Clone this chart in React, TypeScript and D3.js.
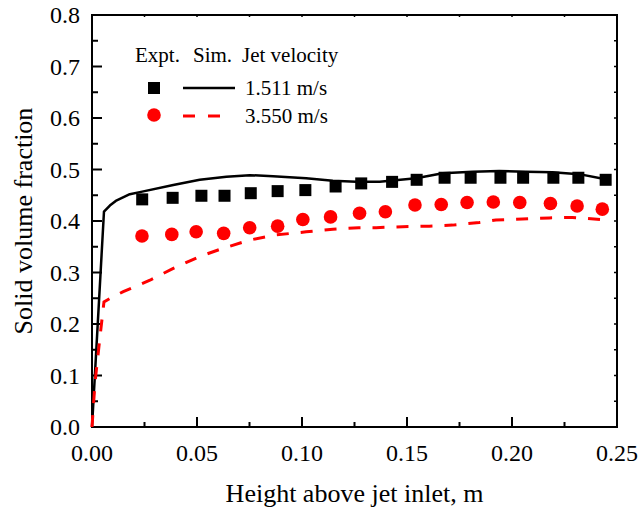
import React from "react";
import * as d3 from "d3";

// Experimental points, jet velocity 1.511 m/s
const exptSlowX = [0.0239, 0.0384, 0.0521, 0.0631, 0.0756, 0.0884, 0.1016, 0.116, 0.1282, 0.1429, 0.1546, 0.1679, 0.1803, 0.1945, 0.2053, 0.2197, 0.2316, 0.2446];
const exptSlowY = [0.442, 0.445, 0.449, 0.449, 0.454, 0.458, 0.46, 0.467, 0.473, 0.476, 0.48, 0.484, 0.484, 0.484, 0.484, 0.484, 0.484, 0.48];

// Experimental points, jet velocity 3.550 m/s
const exptFastX = [0.0238, 0.038, 0.0496, 0.0627, 0.0751, 0.0884, 0.1004, 0.1136, 0.1274, 0.1397, 0.1538, 0.1663, 0.1786, 0.1911, 0.2037, 0.2183, 0.231, 0.243];
const exptFastY = [0.371, 0.374, 0.379, 0.376, 0.387, 0.39, 0.403, 0.408, 0.415, 0.418, 0.431, 0.432, 0.436, 0.437, 0.436, 0.434, 0.429, 0.423];

// Simulation, 1.511 m/s
const simSlowX = [0, 0.0057, 0.0085, 0.0113, 0.018, 0.0239, 0.0387, 0.0513, 0.064, 0.0751, 0.0862, 0.102, 0.1147, 0.1258, 0.137, 0.1543, 0.167, 0.1812, 0.1939, 0.2066, 0.2193, 0.232, 0.2446];
const simSlowY = [0, 0.418, 0.43, 0.439, 0.452, 0.457, 0.47, 0.48, 0.486, 0.489, 0.487, 0.483, 0.478, 0.476, 0.476, 0.483, 0.4926, 0.4958, 0.497, 0.4958, 0.4945, 0.491, 0.481];

// Simulation, 3.550 m/s
const simFastX = [0, 0.0014, 0.0038, 0.0057, 0.0101, 0.0149, 0.0276, 0.0387, 0.0513, 0.0624, 0.0751, 0.0878, 0.102, 0.1147, 0.127, 0.1353, 0.148, 0.1606, 0.1717, 0.1844, 0.1923, 0.205, 0.2177, 0.2288, 0.245];
const simFastY = [0, 0.085, 0.175, 0.243, 0.253, 0.263, 0.285, 0.308, 0.331, 0.347, 0.363, 0.373, 0.379, 0.384, 0.387, 0.387, 0.389, 0.39, 0.392, 0.397, 0.402, 0.404, 0.406, 0.407, 0.402];

const xTicks = [0, 0.05, 0.1, 0.15, 0.2, 0.25];
const yTicks = [0, 0.1, 0.2, 0.3, 0.4, 0.5, 0.6, 0.7, 0.8];
const velocities = ["1.511 m/s", "3.550 m/s"];

const W = 638;
const H = 514;
const left = 92;
const right = 617;
const top = 15;
const bottom = 427;
const FONT = "'Liberation Serif', 'Times New Roman', serif";
const RED = "#ff0000";

export default function App() {
  const x = d3.scaleLinear().domain([0, 0.25]).range([left, right]);
  const y = d3.scaleLinear().domain([0, 0.8]).range([bottom, top]);

  const line = d3
    .line<[number, number]>()
    .x((d) => x(d[0]))
    .y((d) => y(d[1]))
    .curve(d3.curveLinear);

  const slowPath = line(simSlowX.map((v, i) => [v, simSlowY[i]] as [number, number])) || "";
  const fastPath = line(simFastX.map((v, i) => [v, simFastY[i]] as [number, number])) || "";

  const xMinor = d3.range(0, 0.2501, 0.025);
  const yMinor = d3.range(0, 0.8001, 0.05);

  return (
    <svg
      width={W}
      height={H}
      style={{ position: "absolute", left: 0, top: 0, background: "#fff" }}
      fontFamily={FONT}
    >
      <rect width={W} height={H} fill="#fff" />

      {/* bottom ticks */}
      {xMinor.map((v, i) => {
        const major = i % 2 === 0;
        return (
          <line key={"bx" + i} x1={x(v)} x2={x(v)} y1={bottom} y2={bottom - (major ? 10 : 5)} stroke="#000" strokeWidth={2} />
        );
      })}
      {/* top ticks */}
      {xMinor.map((v, i) => (
        <line key={"tx" + i} x1={x(v)} x2={x(v)} y1={top} y2={top + 2} stroke="#000" strokeWidth={1.5} />
      ))}
      {/* left ticks */}
      {yMinor.map((v, i) => {
        const major = i % 2 === 0;
        return (
          <line key={"ly" + i} x1={left} x2={left + (major ? 10 : 6)} y1={y(v)} y2={y(v)} stroke="#000" strokeWidth={2} />
        );
      })}
      {/* right ticks */}
      {yMinor.map((v, i) => (
        <line key={"ry" + i} x1={right} x2={right - 3} y1={y(v)} y2={y(v)} stroke="#000" strokeWidth={1.5} />
      ))}

      {/* frame */}
      <rect x={left} y={top} width={right - left} height={bottom - top} fill="none" stroke="#000" strokeWidth={2} />

      {/* tick labels */}
      {xTicks.map((v) => (
        <text key={"xl" + v} x={x(v)} y={461} textAnchor="middle" fontSize={24} fill="#000">
          {d3.format(".2f")(v)}
        </text>
      ))}
      {yTicks.map((v) => (
        <text key={"yl" + v} x={80} y={y(v) + 8} textAnchor="end" fontSize={24} fill="#000">
          {d3.format(".1f")(v)}
        </text>
      ))}

      {/* axis titles */}
      <text x={(left + right) / 2} y={502} textAnchor="middle" fontSize={26} fill="#000">
        Height above jet inlet, m
      </text>
      <text transform={`translate(32,${(top + bottom) / 2}) rotate(-90)`} textAnchor="middle" fontSize={26} fill="#000">
        Solid volume fraction
      </text>

      {/* simulation curves */}
      <path d={slowPath} fill="none" stroke="#000" strokeWidth={2.5} strokeLinejoin="round" />
      <path d={fastPath} fill="none" stroke={RED} strokeWidth={3} strokeDasharray="12,12" />

      {/* experimental markers */}
      {exptSlowX.map((v, i) => (
        <rect key={"sq" + i} x={x(v) - 6} y={y(exptSlowY[i]) - 6} width={12} height={12} fill="#000" />
      ))}
      {exptFastX.map((v, i) => (
        <circle key={"ci" + i} cx={x(v)} cy={y(exptFastY[i])} r={6.8} fill={RED} />
      ))}

      {/* legend */}
      <g fontSize={21} fill="#000">
        <text x={135} y={62}>Expt.</text>
        <text x={193} y={62}>Sim.</text>
        <text x={242} y={62}>Jet velocity</text>
        <rect x={148} y={82} width={12} height={12} fill="#000" />
        <line x1={183} x2={235} y1={88} y2={88} stroke="#000" strokeWidth={2.5} />
        <text x={245} y={95}>{velocities[0]}</text>
        <circle cx={154} cy={115} r={6.8} fill={RED} />
        <line x1={183} x2={222} y1={116} y2={116} stroke={RED} strokeWidth={3} strokeDasharray="12,13" />
        <text x={245} y={123}>{velocities[1]}</text>
      </g>
    </svg>
  );
}
